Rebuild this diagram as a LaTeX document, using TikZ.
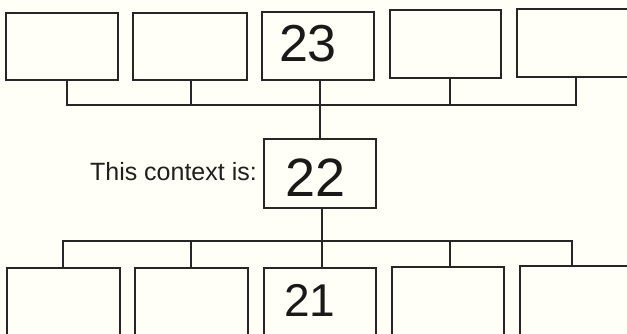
\documentclass[tikz,border=0pt]{standalone}
\usepackage{fontspec}
\setmainfont{Liberation Sans}
\begin{document}
\begin{tikzpicture}[x=1pt,y=-1pt,
  ink/.style={draw=black!85, line width=1.6pt},
  box/.style={ink, rectangle, inner sep=0pt, outer sep=0pt, fill=none},
  wire/.style={ink, line cap=rect},
  hand/.style={text=black!90, inner sep=0pt, font=\fontsize{52}{52}\selectfont},
  label/.style={text=black!88, inner sep=0pt, font=\fontsize{25}{30}\selectfont}]
\useasboundingbox (0,0) rectangle (627,333);
\fill[white!97!yellow] (0,0) rectangle (627,333);
\clip (0,0) rectangle (627,333);
% top row
\node[box, minimum width=112, minimum height=67] (t1) at (62,46.5) {};
\node[box, minimum width=114, minimum height=67] (t2) at (190,46.5) {};
\node[box, minimum width=112, minimum height=68] (t3) at (318,46) {};
\node[box, minimum width=111, minimum height=68] (t4) at (445.5,44) {};
\node[box, minimum width=116, minimum height=68] (t5) at (575,43) {};
% middle
\node[box, minimum width=112, minimum height=69] (m) at (320,173.5) {};
% bottom row
\node[box, minimum width=113, minimum height=80] (b1) at (63.5,308) {};
\node[box, minimum width=113, minimum height=80] (b2) at (191.5,308) {};
\node[box, minimum width=112, minimum height=80] (b3) at (320,308) {};
\node[box, minimum width=112, minimum height=80] (b4) at (448,307) {};
\node[box, minimum width=113, minimum height=80] (b5) at (576.5,306) {};
% bus coordinates
\coordinate (tbus) at (0,105);
\coordinate (bbus) at (0,241);
\coordinate (tc1) at ([xshift=5]t1.south);
\coordinate (tc2) at ([xshift=1]t2.south);
\coordinate (tc3) at ([xshift=2]t3.south);
\coordinate (tc4) at ([xshift=4.5]t4.south);
\coordinate (tc5) at ([xshift=1]t5.south);
\coordinate (bc1) at ([xshift=-0.5]b1.north);
\coordinate (bc2) at ([xshift=-0.5]b2.north);
\coordinate (bc3) at ([xshift=2]b3.north);
\coordinate (bc4) at ([xshift=2]b4.north);
\coordinate (bc5) at ([xshift=-4.5]b5.north);
% top connectors
\draw[ink] (tc1) -- (tc1 |- tbus) -- (tc5 |- tbus) -- (tc5);
\draw[ink] (tc2) -- (tc2 |- tbus);
\draw[ink] (tc4) -- (tc4 |- tbus);
\draw[ink] (tc3) -- (tc3 |- m.north);
% bottom connectors
\draw[ink] (bc1) -- (bc1 |- bbus) -- (bc5 |- bbus) -- (bc5);
\draw[ink] (bc2) -- (bc2 |- bbus);
\draw[ink] (bc4) -- (bc4 |- bbus);
\draw[ink] (m.south -| bc3) -- (bc3);
% texts
\node[hand] (n23) at (308,44) {23};
\node[hand, font=\fontsize{54}{54}\selectfont] (n22) at (316,178) {22};
\node[hand, font=\fontsize{46}{46}\selectfont] (n21) at (310,300) {21};
\node[label, anchor=base east] (ctx) at (257,180) {This context is:};
\end{tikzpicture}
\end{document}
